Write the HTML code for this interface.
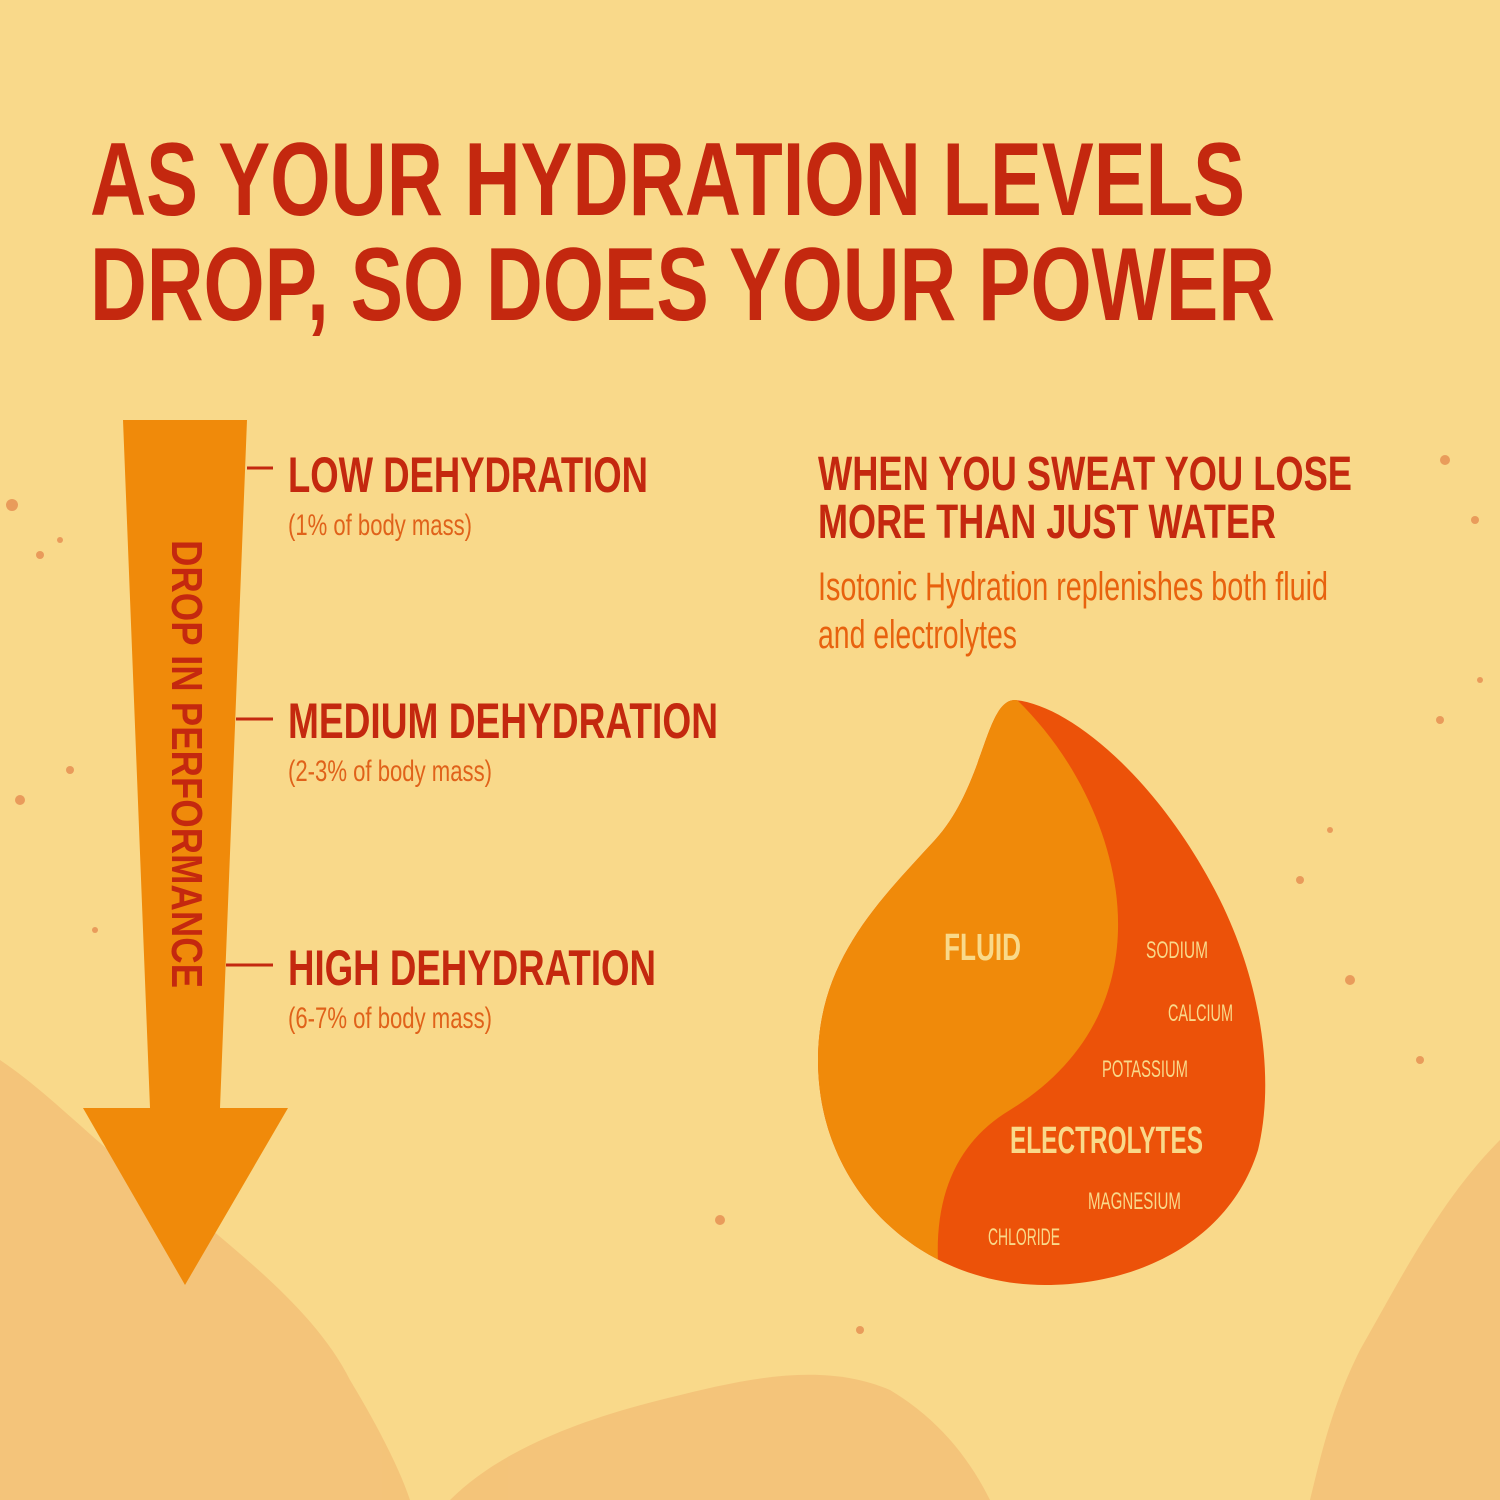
<!DOCTYPE html>
<html><head><meta charset="utf-8"><style>
html,body{margin:0;padding:0;background:#f9d98a;}
svg{display:block}
text{font-family:"Liberation Sans Narrow","Liberation Sans",sans-serif;}
.b{font-weight:bold}
</style></head><body>
<svg width="1500" height="1500" viewBox="0 0 1500 1500" xmlns="http://www.w3.org/2000/svg">
<rect width="1500" height="1500" fill="#f9d98a"/>
<g fill="#e2733a" opacity="0.2">
<path d="M0 1060 C60 1100 120 1170 200 1220 C260 1270 320 1320 350 1380 C380 1430 400 1470 410 1500 L0 1500 Z"/>
<path d="M450 1500 C500 1450 580 1420 660 1400 C740 1380 820 1360 890 1390 C940 1420 970 1460 990 1500 Z"/>
<path d="M1500 1140 C1440 1200 1400 1280 1360 1350 C1330 1410 1320 1460 1310 1500 L1500 1500 Z"/>
</g>
<g fill="#dd6a35" opacity="0.55">
<circle cx="12" cy="505" r="6"/><circle cx="40" cy="555" r="4"/><circle cx="70" cy="770" r="4"/><circle cx="20" cy="800" r="5"/><circle cx="95" cy="930" r="3"/><circle cx="1445" cy="460" r="5"/><circle cx="1475" cy="520" r="4"/><circle cx="1300" cy="880" r="4"/><circle cx="1350" cy="980" r="5"/><circle cx="1420" cy="1060" r="4"/><circle cx="1480" cy="680" r="3"/><circle cx="720" cy="1220" r="5"/><circle cx="860" cy="1330" r="4"/><circle cx="1440" cy="720" r="4"/><circle cx="1330" cy="830" r="3"/><circle cx="60" cy="540" r="3"/>
</g>
<text class="b" x="90" y="215" font-size="104" fill="#c4280f" textLength="1155" lengthAdjust="spacingAndGlyphs">AS YOUR HYDRATION LEVELS</text>
<text class="b" x="90" y="320" font-size="104" fill="#c4280f" textLength="1185" lengthAdjust="spacingAndGlyphs">DROP, SO DOES YOUR POWER</text>
<polygon points="123,420 247,420 220,1108 288,1108 185,1285 83,1108 150,1108" fill="#f08a0a"/>
<text class="b" transform="translate(172,540) rotate(90)" font-size="44" fill="#c4280f" textLength="448" lengthAdjust="spacingAndGlyphs">DROP IN PERFORMANCE</text>
<g stroke="#c4280f" stroke-width="3">
<line x1="247" y1="468" x2="273" y2="468"/><line x1="236" y1="719" x2="273" y2="719"/><line x1="226" y1="965" x2="273" y2="965"/>
</g>
<g fill="#c4280f">
<text class="b" x="288" y="492" font-size="50" textLength="360" lengthAdjust="spacingAndGlyphs">LOW DEHYDRATION</text>
<text x="288" y="535" font-size="30" fill="#e0621a" textLength="184" lengthAdjust="spacingAndGlyphs">(1% of body mass)</text>
<text class="b" x="288" y="738" font-size="50" textLength="430" lengthAdjust="spacingAndGlyphs">MEDIUM DEHYDRATION</text>
<text x="288" y="781" font-size="30" fill="#e0621a" textLength="204" lengthAdjust="spacingAndGlyphs">(2-3% of body mass)</text>
<text class="b" x="288" y="985" font-size="50" textLength="368" lengthAdjust="spacingAndGlyphs">HIGH DEHYDRATION</text>
<text x="288" y="1028" font-size="30" fill="#e0621a" textLength="204" lengthAdjust="spacingAndGlyphs">(6-7% of body mass)</text>
<text class="b" x="818" y="490" font-size="48" textLength="534" lengthAdjust="spacingAndGlyphs">WHEN YOU SWEAT YOU LOSE</text>
<text class="b" x="818" y="538" font-size="48" textLength="458" lengthAdjust="spacingAndGlyphs">MORE THAN JUST WATER</text>
</g>
<text x="818" y="600" font-size="40" fill="#e8620e" textLength="510" lengthAdjust="spacingAndGlyphs">Isotonic Hydration replenishes both fluid</text>
<text x="818" y="648" font-size="40" fill="#e8620e" textLength="199" lengthAdjust="spacingAndGlyphs">and electrolytes</text>
<defs><clipPath id="d"><path d="M1015 700 C1070 705 1160 780 1220 900 C1262 985 1275 1080 1258 1150 C1230 1240 1140 1285 1045 1285 C920 1285 818 1190 818 1060 C818 960 880 900 935 840 C985 785 985 700 1015 700 Z"/></clipPath></defs>
<g clip-path="url(#d)">
<rect x="800" y="690" width="480" height="610" fill="#ec5209"/>
<path d="M1015 698 C1080 760 1120 850 1118 930 C1116 1010 1075 1070 1010 1110 C960 1140 935 1190 938 1262 L936 1300 L790 1300 L790 690 Z" fill="#f08a0a"/>
</g>
<g fill="#f9d98a">
<text class="b" x="944" y="960" font-size="38" textLength="77" lengthAdjust="spacingAndGlyphs">FLUID</text>
<text x="1146" y="958" font-size="24" textLength="62" lengthAdjust="spacingAndGlyphs">SODIUM</text>
<text x="1168" y="1021" font-size="24" textLength="65" lengthAdjust="spacingAndGlyphs">CALCIUM</text>
<text x="1102" y="1077" font-size="24" textLength="86" lengthAdjust="spacingAndGlyphs">POTASSIUM</text>
<text class="b" x="1010" y="1153" font-size="38" textLength="193" lengthAdjust="spacingAndGlyphs">ELECTROLYTES</text>
<text x="1088" y="1209" font-size="24" textLength="93" lengthAdjust="spacingAndGlyphs">MAGNESIUM</text>
<text x="988" y="1245" font-size="24" textLength="72" lengthAdjust="spacingAndGlyphs">CHLORIDE</text>
</g>
</svg>
</body></html>
